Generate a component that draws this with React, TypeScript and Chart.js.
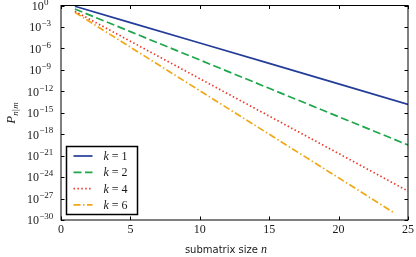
import { useEffect, useRef } from "react";
import { Chart, registerables } from "chart.js";

Chart.register(...registerables);

// ---- data ----
const kValues = [1, 2, 4, 6];
const nPoints = [1, 5, 10, 15, 20, 25];
const nPointsK6 = [1, 5, 10, 15, 20, 24];
const pK1 = [0.78, 4.1e-3, 5.6e-6, 7.9e-9, 1.1e-11, 1.5e-14];
const pK2 = [0.32, 2.2e-4, 2.4e-8, 2.6e-12, 2.8e-16, 3.1e-20];
const pK4 = [0.155, 1.0e-5, 5.8e-11, 3.4e-16, 2.0e-21, 1.1e-26];
const pK6 = [0.11, 1.5e-6, 1.2e-12, 9.8e-19, 7.9e-25, 1.0e-29];

const xTickValues = [0, 5, 10, 15, 20, 25];
const xTickLabels = ["0", "5", "10", "15", "20", "25"];
const yTickValues = [1, 1e-3, 1e-6, 1e-9, 1e-12, 1e-15, 1e-18, 1e-21, 1e-24, 1e-27, 1e-30];
const yTickExponents = ["0", "\u22123", "\u22126", "\u22129", "\u221212", "\u221215", "\u221218", "\u221221", "\u221224", "\u221227", "\u221230"];

const xTitle = "submatrix size ";
const xTitleVar = "n";
const yTitleMain = "P";
const yTitleSub = ["n", "|", "m"];

const colors = ["#233d99", "#1fa64a", "#ec3a2c", "#f0a818"];
const dashes = [[], [8, 3.5], [1.5, 2.4], [7, 2.5, 1.5, 2.5]];

const seriesN = [nPoints, nPoints, nPoints, nPointsK6];
const seriesP = [pK1, pK2, pK4, pK6];

const SERIF = "'Liberation Serif', 'DejaVu Serif', serif";
const SANS = "'DejaVu Sans', sans-serif";
const TEXT = "#1a1a1a";

const overlay = {
  id: "overlay",
  afterDraw(chart: any) {
    const { ctx, chartArea: a, scales } = chart;
    const xs = scales.x;
    const ys = scales.y;
    ctx.save();

    // legend
    const lx = a.left + 5.5, ly = 146.5, lw = 71, lh = 68;
    ctx.fillStyle = "#ffffff";
    ctx.fillRect(lx, ly, lw, lh);
    ctx.strokeStyle = "#000";
    ctx.lineWidth = 1.5;
    ctx.strokeRect(lx, ly, lw, lh);
    chart.data.datasets.forEach((ds: any, i: number) => {
      const yy = ly + 9.5 + i * 16.3;
      ctx.beginPath();
      ctx.strokeStyle = ds.borderColor;
      ctx.lineWidth = ds.borderWidth;
      ctx.setLineDash(ds.borderDash || []);
      ctx.moveTo(lx + 7, yy);
      ctx.lineTo(lx + 26, yy);
      ctx.stroke();
      ctx.setLineDash([]);
      ctx.fillStyle = TEXT;
      ctx.textBaseline = "middle";
      ctx.textAlign = "left";
      ctx.font = `italic 12px ${SERIF}`;
      ctx.fillText("k", lx + 37, yy + 1);
      const kw = ctx.measureText("k").width;
      ctx.font = `12px ${SERIF}`;
      ctx.fillText(` = ${kValues[i]}`, lx + 37 + kw, yy + 1);
    });

    // frame
    ctx.strokeStyle = "#000";
    ctx.lineWidth = 1;
    ctx.strokeRect(a.left, a.top, a.right - a.left, a.bottom - a.top);

    // inward ticks
    const tl = 3.5;
    ctx.beginPath();
    xTickValues.forEach((v) => {
      const px = Math.round(xs.getPixelForValue(v)) + 0.5;
      ctx.moveTo(px, a.bottom);
      ctx.lineTo(px, a.bottom - tl);
      ctx.moveTo(px, a.top);
      ctx.lineTo(px, a.top + tl);
    });
    yTickValues.forEach((v) => {
      const py = Math.round(ys.getPixelForValue(v)) + 0.5;
      ctx.moveTo(a.left, py);
      ctx.lineTo(a.left + tl, py);
      ctx.moveTo(a.right, py);
      ctx.lineTo(a.right - tl, py);
    });
    ctx.stroke();

    // x tick labels
    ctx.fillStyle = TEXT;
    ctx.font = `12px ${SERIF}`;
    ctx.textAlign = "center";
    ctx.textBaseline = "middle";
    xTickValues.forEach((v, i) => {
      ctx.fillText(xTickLabels[i], xs.getPixelForValue(v), a.bottom + 10);
    });

    // y tick labels: 10^exp
    yTickValues.forEach((v, i) => {
      const py = ys.getPixelForValue(v);
      ctx.font = `12px ${SERIF}`;
      const w1 = ctx.measureText("10").width;
      ctx.font = `9px ${SERIF}`;
      const w2 = ctx.measureText(yTickExponents[i]).width;
      const cx = a.left - 21;
      const x0 = cx - (w1 + w2) / 2;
      ctx.textAlign = "left";
      ctx.textBaseline = "alphabetic";
      ctx.font = `12px ${SERIF}`;
      ctx.fillText("10", x0, py + 4.3);
      ctx.font = `9px ${SERIF}`;
      ctx.fillText(yTickExponents[i], x0 + w1 + 0.3, py - 0.8);
    });

    // x title
    ctx.font = `10px ${SANS}`;
    const tw1 = ctx.measureText(xTitle).width;
    ctx.font = `italic 12px ${SERIF}`;
    const tw2 = ctx.measureText(xTitleVar).width;
    const tx0 = 226 - (tw1 + tw2) / 2;
    ctx.textAlign = "left";
    ctx.textBaseline = "middle";
    ctx.font = `10px ${SANS}`;
    ctx.fillText(xTitle, tx0, 250);
    ctx.font = `italic 12px ${SERIF}`;
    ctx.fillText(xTitleVar, tx0 + tw1, 249.5);

    // y title
    ctx.translate(11.5, (a.top + a.bottom) / 2);
    ctx.rotate(-Math.PI / 2);
    ctx.font = `italic 13px ${SERIF}`;
    const pw = ctx.measureText(yTitleMain).width;
    let sw = 0;
    const subFonts = yTitleSub.map((s) => (s === "|" ? `9px ${SERIF}` : `italic 9px ${SERIF}`));
    yTitleSub.forEach((s, i) => {
      ctx.font = subFonts[i];
      sw += ctx.measureText(s).width + 0.4;
    });
    let cx = -(pw + sw) / 2;
    ctx.textBaseline = "alphabetic";
    ctx.font = `italic 13px ${SERIF}`;
    ctx.fillText(yTitleMain, cx, 3.5);
    cx += pw;
    yTitleSub.forEach((s, i) => {
      ctx.font = subFonts[i];
      ctx.fillText(s, cx, 6.5);
      cx += ctx.measureText(s).width + 0.4;
    });

    ctx.restore();
  },
};

export default function App() {
  const ref = useRef<HTMLCanvasElement | null>(null);
  useEffect(() => {
    if (!ref.current) return;
    const datasets = kValues.map((k, i) => ({
      label: `k = ${k}`,
      data: seriesN[i].map((n, j) => ({ x: n, y: seriesP[i][j] })),
      borderColor: colors[i],
      backgroundColor: colors[i],
      borderWidth: 1.7,
      borderDash: dashes[i],
      borderCapStyle: "butt" as const,
      pointRadius: 0,
      fill: false,
      tension: 0,
    }));
    const chart = new Chart(ref.current, {
      type: "line",
      data: { datasets },
      options: {
        animation: false,
        responsive: false,
        devicePixelRatio: 1,
        layout: { padding: { top: 5.5, right: 8, bottom: 0, left: 0 } },
        plugins: { legend: { display: false }, tooltip: { enabled: false } },
        scales: {
          x: {
            type: "linear",
            min: 0,
            max: 25,
            grid: { display: false },
            border: { display: false },
            ticks: { display: false },
            afterFit: (s: any) => {
              s.height = 37;
            },
          },
          y: {
            type: "logarithmic",
            min: 1e-30,
            max: 1,
            grid: { display: false },
            border: { display: false },
            ticks: { display: false },
            afterBuildTicks: (s: any) => {
              s.ticks = yTickValues.map((v) => ({ value: v }));
            },
            afterFit: (s: any) => {
              s.width = 61;
            },
          },
        },
      },
      plugins: [overlay],
    });
    return () => chart.destroy();
  }, []);
  return (
    <div style={{ position: "fixed", left: 0, top: 0, width: 416, height: 257, background: "#fff" }}>
      <canvas ref={ref} width={416} height={257} style={{ width: 416, height: 257, display: "block" }} />
    </div>
  );
}
